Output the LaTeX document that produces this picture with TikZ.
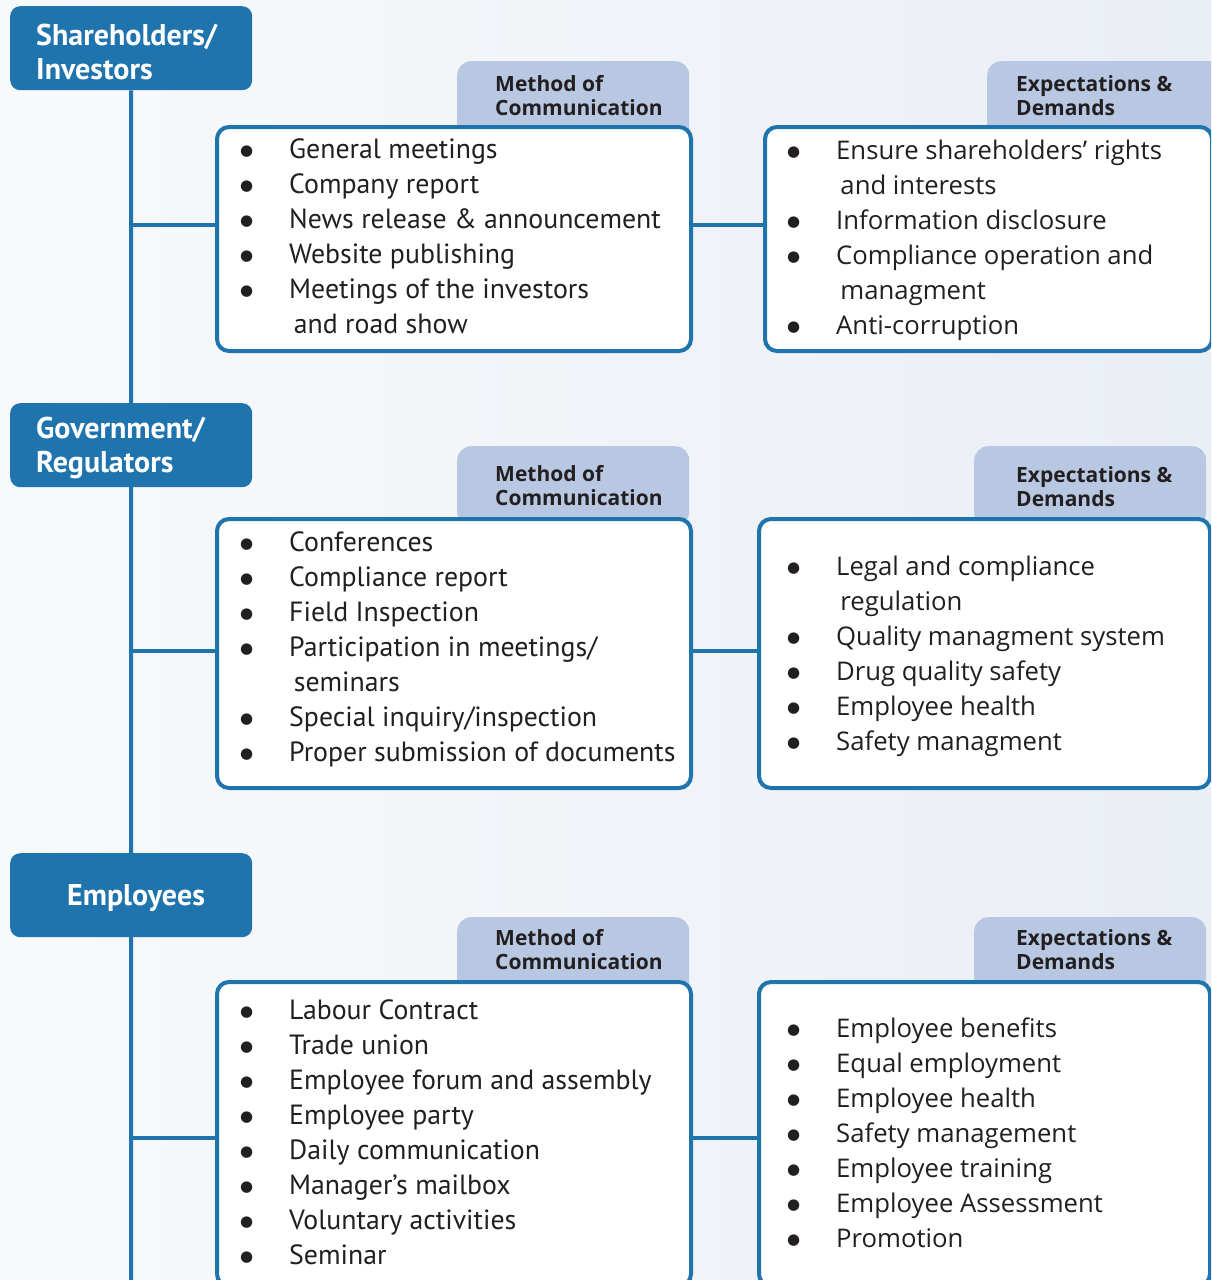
\documentclass[tikz,border=0pt]{standalone}
\usepackage{fontspec}
\setmainfont{Open Sans}
\newfontfamily\ptsans{PT Sans}
\newfontfamily\dejavu{DejaVu Sans}
\usepackage{tikz}
\usetikzlibrary{backgrounds}

\definecolor{hdblue}{RGB}{31,116,174}
\definecolor{tabblue}{RGB}{184,200,226}
\definecolor{ink}{RGB}{35,31,32}
\definecolor{bgl}{RGB}{248,249,251}
\definecolor{bgr}{RGB}{234,238,245}

\newcommand\bul{\raisebox{2.5pt}{\dejavu\fontsize{15}{15}\selectfont ●}}
\newcommand\itemlist[1]{\begin{tabular}[t]{@{}p{49pt}@{}l@{}}#1\end{tabular}}
\newcommand\twolines[2]{\begin{tabular}[t]{@{}l@{}}#1\\#2\end{tabular}}

\tikzset{
  head/.style={fill=hdblue, rounded corners=10pt, anchor=north west, inner sep=0pt,
    minimum width=242pt, minimum height=84pt},
  headtext/.style={anchor=base west, inner sep=0pt, text=white,
    font=\ptsans\bfseries\fontsize{30}{34}\selectfont},
  tab/.style={fill=tabblue, rounded corners=14pt, anchor=north west, inner sep=0pt},
  tabtext/.style={anchor=base west, inner sep=0pt, text=ink,
    font=\bfseries\fontsize{21}{24.5}\selectfont},
  box/.style={draw=hdblue, line width=4pt, fill=white, rounded corners=12pt,
    anchor=north west, inner sep=0pt},
  link/.style={draw=hdblue, line width=4pt},
  moclist/.style={anchor=base west, inner sep=0pt, text=ink,
    font=\ptsans\fontsize{27.8}{35}\selectfont},
  explist/.style={anchor=base west, inner sep=0pt, text=ink,
    font=\fontsize{25.7}{35}\selectfont}
}

\begin{document}
\begin{tikzpicture}[x=1pt,y=-1pt]
  \useasboundingbox (0,0) rectangle (1211,1280);
  \clip (0,0) rectangle (1211,1280);
  \begin{scope}[on background layer]
    \shade[left color=bgl, right color=bgr] (0,0) rectangle (1211,1280);
  \end{scope}

  % stakeholder heads
  \foreach \pos/\name in {{(10,6)/share}, {(10,403)/gov}, {(10,853)/emp}}
    \node[head] (\name) at \pos {};
  \node[headtext] (share-label) at (36,45) {\twolines{Shareholders/}{Investors}};
  \node[headtext] (gov-label) at (36,438) {\twolines{Government/}{Regulators}};
  \node[headtext] (emp-label) at (67,905) {Employees};

  % trunk and forks
  \coordinate (trunk-end) at (131,1290);
  \coordinate (share-fork) at (131,225);
  \coordinate (gov-fork) at (131,651);
  \coordinate (emp-fork) at (131,1138);
  \begin{scope}[on background layer]
    \path[link] (share.south) -- (trunk-end);
  \end{scope}

  % tabs
  \foreach \pos/\name/\w in {{(457,61)/share-mt/232}, {(987,61)/share-et/240},
      {(457,446)/gov-mt/232}, {(974,446)/gov-et/232},
      {(457,917)/emp-mt/232}, {(974,917)/emp-et/232}}
    \node[tab, minimum width=\w pt, minimum height=80pt] (\name) at \pos {};

  % boxes
  \foreach \pos/\name/\w/\h in {{(215,125)/share-moc/474/224}, {(763,125)/share-exp/447/224},
      {(215,517)/gov-moc/474/269}, {(757,517)/gov-exp/451/269},
      {(215,980)/emp-moc/474/304}, {(757,980)/emp-exp/451/304}}
    \node[box, minimum width=\w pt, minimum height=\h pt] (\name) at \pos {};

  \foreach \row in {share, gov, emp} {
    \path[link] (\row-fork) -- (\row-fork -| \row-moc.west);
    \path[link] (\row-moc.east |- \row-fork) -- (\row-exp.west |- \row-fork);
  }

  % tab titles
  \foreach \pos/\name/\first/\second in {
      {(495,91)/share-mtt/Method of/Communication}, {(1016,91)/share-ett/Expectations \&/Demands},
      {(495,481)/gov-mtt/Method of/Communication}, {(1016,482)/gov-ett/Expectations \&/Demands},
      {(495,945)/emp-mtt/Method of/Communication}, {(1016,945)/emp-ett/Expectations \&/Demands}}
    \node[tabtext] (\name) at \pos {\twolines{\first}{\second}};

  % lists
  \node[moclist] (share-moc-list) at (240,158) {\itemlist{
    \bul & General meetings\\
    \bul & Company report\\
    \bul & News release \& announcement\\
    \bul & Website publishing\\
    \bul & Meetings of the investors\\
    & \,and road show}};
  \node[explist] (share-exp-list) at (787,159) {\itemlist{
    \bul & Ensure shareholders’ rights\\
    & \,and interests\\
    \bul & Information disclosure\\
    \bul & Compliance operation and\\
    & \,managment\\
    \bul & Anti-corruption}};

  \node[moclist] (gov-moc-list) at (240,551) {\itemlist{
    \bul & Conferences\\
    \bul & Compliance report\\
    \bul & Field Inspection\\
    \bul & Participation in meetings/\\
    & \,seminars\\
    \bul & Special inquiry/inspection\\
    \bul & Proper submission of documents}};
  \node[explist] (gov-exp-list) at (787,575) {\itemlist{
    \bul & Legal and compliance\\
    & \,regulation\\
    \bul & Quality managment system\\
    \bul & Drug quality safety\\
    \bul & Employee health\\
    \bul & Safety managment}};

  \node[moclist] (emp-moc-list) at (240,1019) {\itemlist{
    \bul & Labour Contract\\
    \bul & Trade union\\
    \bul & Employee forum and assembly\\
    \bul & Employee party\\
    \bul & Daily communication\\
    \bul & Manager’s mailbox\\
    \bul & Voluntary activities\\
    \bul & Seminar}};
  \node[explist] (emp-exp-list) at (787,1037) {\itemlist{
    \bul & Employee benefits\\
    \bul & Equal employment\\
    \bul & Employee health\\
    \bul & Safety management\\
    \bul & Employee training\\
    \bul & Employee Assessment\\
    \bul & Promotion}};
\end{tikzpicture}
\end{document}
